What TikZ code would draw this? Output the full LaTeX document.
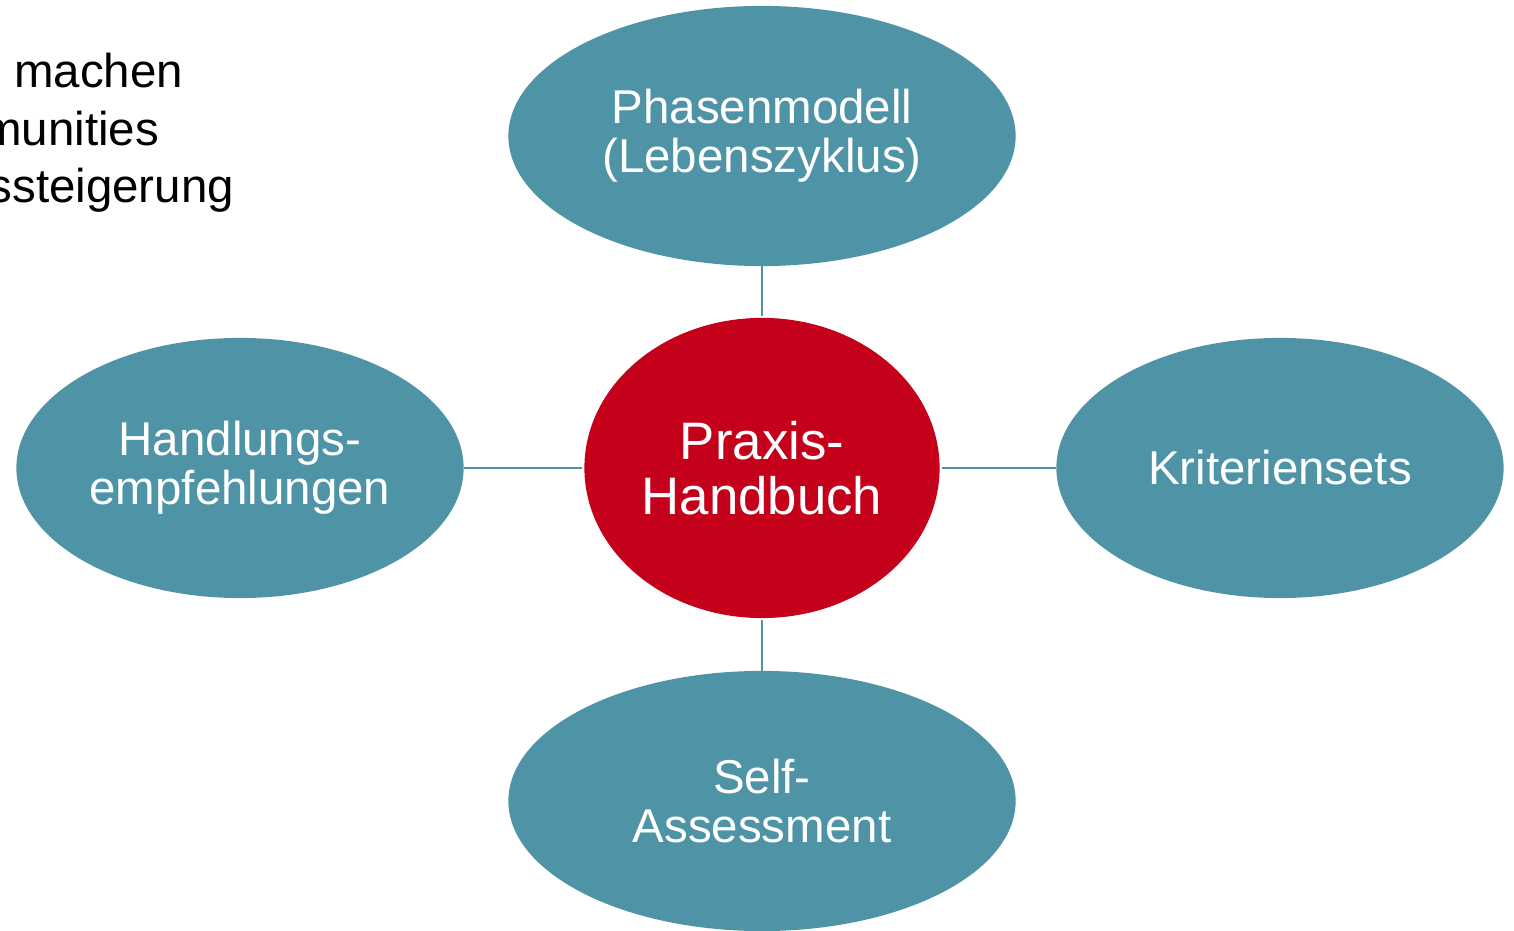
\documentclass[tikz,border=0pt]{standalone}
\usepackage{fontspec}
\setmainfont{Liberation Sans}
\usetikzlibrary{shapes.geometric}

\definecolor{topicTeal}{HTML}{4E93A6}
\definecolor{hubRed}{HTML}{C4001A}

\begin{document}
\begin{tikzpicture}[x = 0.01cm, y = -0.01cm,
						topic/.style = {ellipse, fill = topicTeal, text = white, align = center,
							minimum width = 5.07cm, minimum height = 2.6cm, inner sep = 0pt, outer sep = 0pt,
							font = \fontsize{13.5}{14}\selectfont},
						side topic/.style = {topic, minimum width = 4.47cm},
						hub/.style = {ellipse, fill = hubRed, text = white, align = center,
							minimum width = 3.55cm, minimum height = 3.0cm, inner sep = 0pt, outer sep = 0pt,
							font = \fontsize{15}{15.7}\selectfont},
						link/.style = {topicTeal, line width = 0.6pt, shorten >= 0.6pt},
						bullet text/.style = {anchor = base east, inner sep = 0pt, outer sep = 0pt,
							font = \fontsize{13.5}{14}\selectfont},
						]

		% Page frame
		\useasboundingbox (0, 0) rectangle (1514, 931);
		\clip (0, 0) rectangle (1514, 931);

		% Left-over list from the slide, cut by the page edge
		\node[bullet text] (lineOne) at (183, 88) {machen};
		\node[bullet text] (lineTwo) at (159, 146) {munities};
		\node[bullet text] (lineThree) at (234, 203) {ssteigerung};

		% Hub and topics
		\node[hub] (handbook) at (762, 468) {Praxis-\\Handbuch};
		\node[topic] (phases) at (762, 136) {Phasenmodell\\(Lebenszyklus)};
		\node[side topic] (actions) at (240, 468) {Handlungs-\\empfehlungen};
		\node[side topic] (criteria) at (1280, 468) {Kriteriensets};
		\node[topic] (selfCheck) at (762, 801) {Self-\\Assessment};

		% Links to the hub
		\draw[link] (phases) -- (handbook);
		\draw[link] (actions) -- (handbook);
		\draw[link] (criteria) -- (handbook);
		\draw[link] (selfCheck) -- (handbook);

	\end{tikzpicture}
\end{document}
